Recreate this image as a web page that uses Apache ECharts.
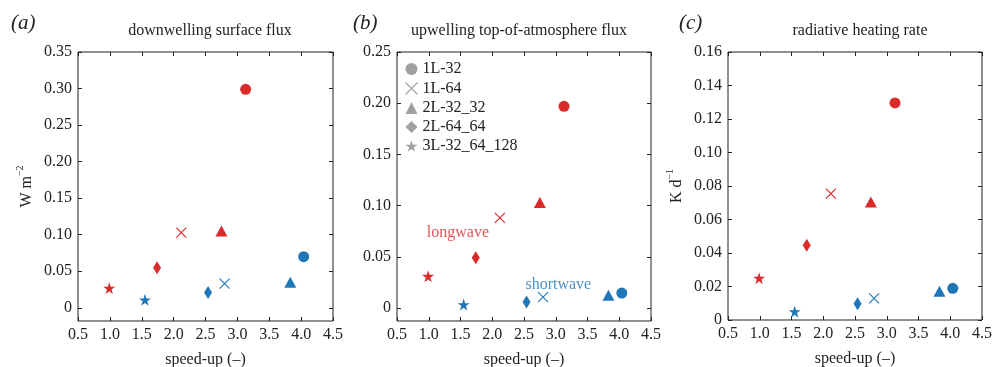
<!DOCTYPE html>
<html>
<head>
<meta charset="utf-8">
<script src="https://cdn.jsdelivr.net/npm/echarts@6/dist/echarts.min.js"></script>
<style>
  html, body { margin: 0; padding: 0; background: #fff; }
  #chart { width: 993px; height: 367px; }
</style>
</head>
<body>
<div id="chart"></div>
<script>
// models (legend order)
const models = ['1L-32', '1L-64', '2L-32_32', '2L-64_64', '3L-32_64_128'];

// speed-up for each model
const lwSpeedup = [3.13, 2.12, 2.75, 1.74, 0.99];
const swSpeedup = [4.04, 2.80, 3.83, 2.54, 1.55];

// (a) downwelling surface flux, W m-2
const aLong = [0.299, 0.103, 0.105, 0.055, 0.027];
const aShort = [0.070, 0.033, 0.035, 0.021, 0.011];
// (b) upwelling top-of-atmosphere flux
const bLong = [0.197, 0.088, 0.103, 0.049, 0.031];
const bShort = [0.0146, 0.0107, 0.0124, 0.0059, 0.0033];
// (c) radiative heating rate, K d-1
const cLong = [0.1296, 0.0755, 0.0704, 0.0447, 0.025];
const cShort = [0.0189, 0.0129, 0.0171, 0.0097, 0.005];

const aTicks = [0, 0.05, 0.10, 0.15, 0.20, 0.25, 0.30, 0.35];
const bTicks = [0, 0.05, 0.10, 0.15, 0.20, 0.25];
const cTicks = [0, 0.02, 0.04, 0.06, 0.08, 0.10, 0.12, 0.14, 0.16];

// text labels in panel b: [x, y, text]
const annotations = [[1.46, 0.0735, 'longwave'], [3.04, 0.0225, 'shortwave']];

const RED = '#da2a2a';
const BLUE = '#2077b8';
const GREY = '#888888';
const FONT = '"Liberation Serif", "DejaVu Serif", serif';
const INK = '#222';
const FS = 16;

const STAR = 'path://M10,0L12.25,6.91L19.51,6.91L13.63,11.18L15.88,18.09L10,13.82L4.12,18.09L6.37,11.18L0.49,6.91L7.75,6.91Z';
const CROSS = 'path://M0,0L10,10M10,0L0,10';

// symbol look per model
const shapes = [
  { symbol: 'circle', size: 11 },
  { symbol: CROSS, size: 10, open: true },
  { symbol: 'triangle', size: [12, 11] },
  { symbol: 'diamond', size: [8, 13] },
  { symbol: STAR, size: 12 }
];

const grids = [
  { left: 78, top: 52, width: 255, height: 269 },
  { left: 397, top: 52, width: 254, height: 269 },
  { left: 728, top: 52, width: 254, height: 268 }
];

const panels = [
  { lw: aLong, sw: aShort, min: -0.018, max: 0.35, ticks: aTicks, name: '{n|W m}{s|−2}' },
  { lw: bLong, sw: bShort, min: -0.0127, max: 0.25, ticks: bTicks, name: '' },
  { lw: cLong, sw: cShort, min: 0, max: 0.16, ticks: cTicks, name: '{n|K d}{s|−1}' }
];

const labelStyle = { fontFamily: FONT, fontSize: FS, color: INK };
const tick = { inside: true, length: 4, lineStyle: { color: INK } };

const xAxis = [], yAxis = [], series = [];
panels.forEach((p, i) => {
  // bottom axis
  xAxis.push({
    gridIndex: i, type: 'value', min: 0.5, max: 4.5, interval: 0.5,
    name: 'speed-up (–)', nameLocation: 'middle', nameGap: 31,
    nameTextStyle: { fontFamily: FONT, fontSize: FS, color: INK },
    axisLine: { show: false, onZero: false },
    axisTick: tick,
    axisLabel: { ...labelStyle, margin: 6, formatter: v => v.toFixed(1) },
    splitLine: { show: false }
  });
  // top axis (ticks only)
  xAxis.push({
    gridIndex: i, type: 'value', position: 'top', min: 0.5, max: 4.5, interval: 0.5,
    axisLine: { show: false, onZero: false },
    axisTick: tick,
    axisLabel: { show: false }, splitLine: { show: false }
  });
  yAxis.push({
    gridIndex: i, type: 'value', min: p.min, max: p.max,
    name: p.name, nameLocation: 'middle', nameGap: 43,
    nameTextStyle: {
      rich: {
        n: { fontFamily: FONT, fontSize: FS, color: INK, lineHeight: 20, verticalAlign: 'bottom' },
        s: { fontFamily: FONT, fontSize: 10, color: INK, verticalAlign: 'top', lineHeight: 10 }
      }
    },
    axisLine: { show: false, onZero: false },
    axisTick: { ...tick, customValues: p.ticks },
    axisLabel: { ...labelStyle, margin: 6, customValues: p.ticks, formatter: v => (v === 0 ? '0' : v.toFixed(2)) },
    splitLine: { show: false }
  });
  yAxis.push({
    gridIndex: i, type: 'value', position: 'right', min: p.min, max: p.max,
    axisLine: { show: false, onZero: false },
    axisTick: { ...tick, customValues: p.ticks },
    axisLabel: { show: false, customValues: p.ticks }, splitLine: { show: false }
  });

  models.forEach((m, k) => {
    const sh = shapes[k];
    const style = c => sh.open
      ? { color: 'none', borderColor: c, borderWidth: 1.1, opacity: 1 }
      : { color: c, opacity: 1 };
    series.push({
      name: m, type: 'scatter', xAxisIndex: i * 2, yAxisIndex: i * 2,
      symbol: sh.symbol, symbolSize: sh.size, z: 3,
      data: [
        { value: [lwSpeedup[k], p.lw[k]], itemStyle: style(RED) },
        { value: [swSpeedup[k], p.sw[k]], itemStyle: style(BLUE) }
      ]
    });
  });
});

// longwave / shortwave text in panel b
series.push({
  type: 'scatter', xAxisIndex: 2, yAxisIndex: 2, symbolSize: 0, silent: true,
  data: annotations.map((a, j) => ({
    value: [a[0], a[1]],
    label: {
      show: true, position: 'inside', formatter: a[2],
      fontFamily: FONT, fontSize: FS, color: j === 0 ? RED : BLUE
    }
  }))
});

const titleFont = { fontFamily: FONT, fontSize: FS, fontWeight: 'normal', color: INK };
const tagFont = { fontFamily: FONT, fontSize: 21, fontStyle: 'italic', fontWeight: 'normal', color: INK };

const chart = echarts.init(document.getElementById('chart'), null, { renderer: 'canvas' });
chart.setOption({
  animation: false,
  backgroundColor: '#fff',
  title: [
    { text: '(a)', left: 6, top: 8, textStyle: tagFont },
    { text: '(b)', left: 348, top: 8, textStyle: tagFont },
    { text: '(c)', left: 674, top: 8, textStyle: tagFont },
    { text: 'downwelling surface flux', left: 205, top: 18, textAlign: 'center', textStyle: titleFont },
    { text: 'upwelling top-of-atmosphere flux', left: 514, top: 18, textAlign: 'center', textStyle: titleFont },
    { text: 'radiative heating rate', left: 855, top: 18, textAlign: 'center', textStyle: titleFont }
  ],
  legend: {
    orient: 'vertical', left: 403, top: 61, padding: 0, itemGap: 3, itemWidth: 12, itemHeight: 12,
    textStyle: { fontFamily: FONT, fontSize: FS, color: INK },
    data: models.map((m, k) => ({
      name: m,
      icon: shapes[k].symbol,
      itemStyle: shapes[k].open
        ? { color: 'none', borderColor: GREY, borderWidth: 1.1 }
        : { color: GREY, borderWidth: 0 }
    }))
  },
  grid: grids.map(g => ({
    ...g, show: true, borderColor: INK, borderWidth: 1, backgroundColor: 'transparent',
    containLabel: false, outerBoundsMode: 'none'
  })),
  xAxis: xAxis,
  yAxis: yAxis,
  series: series
});
</script>
</body>
</html>
